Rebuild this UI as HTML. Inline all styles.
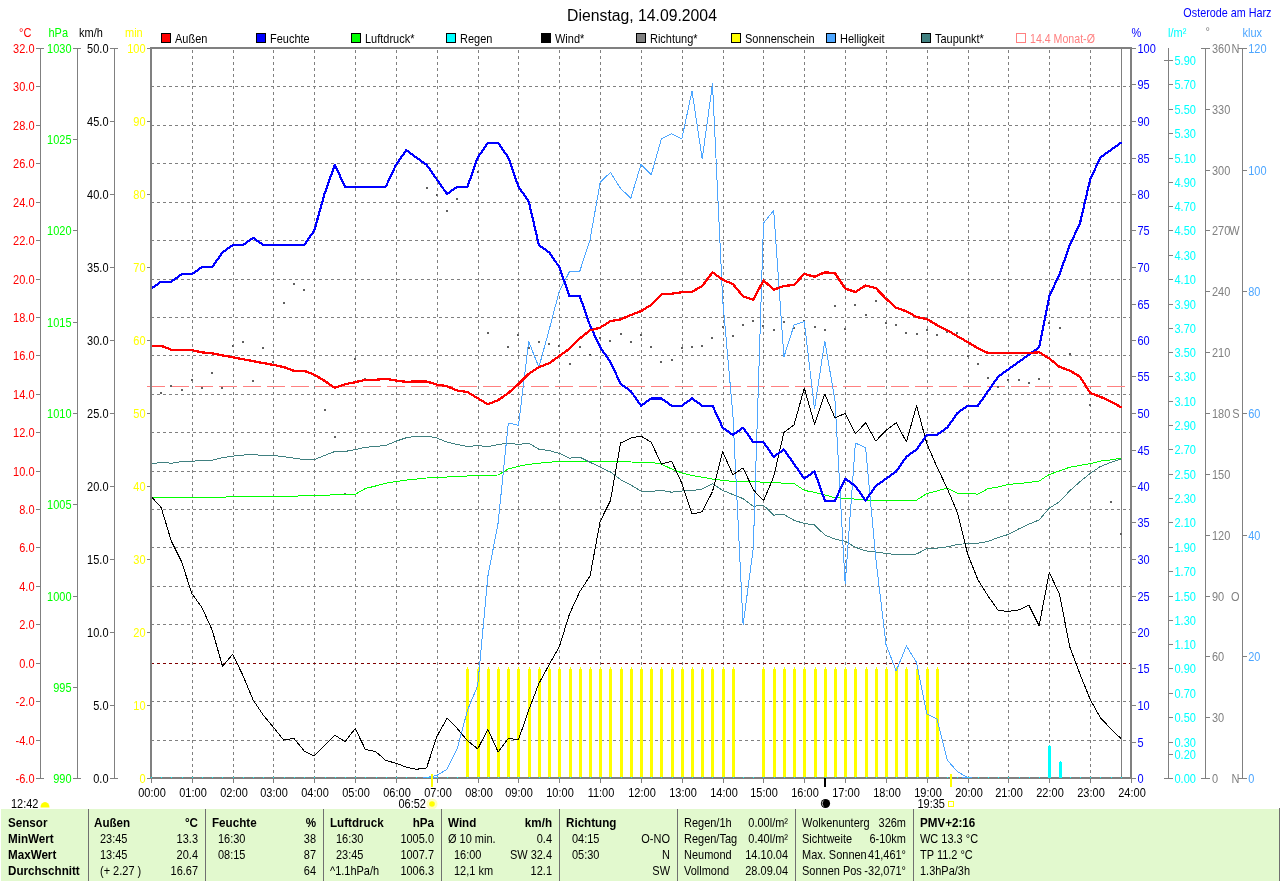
<!DOCTYPE html>
<html><head><meta charset="utf-8"><title>Wetter</title>
<style>html,body{margin:0;padding:0;background:#fff;}body{width:1280px;height:881px;overflow:hidden;}svg{display:block;font-family:"Liberation Sans",sans-serif;will-change:transform;}.c{shape-rendering:crispEdges}</style></head><body>
<svg width="1280" height="881" viewBox="0 0 1280 881">
<rect width="1280" height="881" fill="#fff"/>
<text transform="translate(642,21) scale(0.985,1)" fill="#000" text-anchor="middle" font-size="16" font-weight="normal" >Dienstag, 14.09.2004</text>
<text transform="translate(1271.5,16.5) scale(0.9,1)" fill="#0000ff" text-anchor="end" font-size="12" font-weight="normal" >Osterode am Harz</text>
<rect class="c" x="161.5" y="33.5" width="9" height="9" fill="#ff0000" stroke="#000" stroke-width="1"/>
<text transform="translate(175,42.5) scale(0.915,1)" fill="#000" text-anchor="start" font-size="12" font-weight="normal" >Au&#223;en</text>
<rect class="c" x="256.5" y="33.5" width="9" height="9" fill="#0000ff" stroke="#000" stroke-width="1"/>
<text transform="translate(270,42.5) scale(0.915,1)" fill="#000" text-anchor="start" font-size="12" font-weight="normal" >Feuchte</text>
<rect class="c" x="351.5" y="33.5" width="9" height="9" fill="#00ff00" stroke="#000" stroke-width="1"/>
<text transform="translate(365,42.5) scale(0.915,1)" fill="#000" text-anchor="start" font-size="12" font-weight="normal" >Luftdruck*</text>
<rect class="c" x="446.5" y="33.5" width="9" height="9" fill="#00ffff" stroke="#000" stroke-width="1"/>
<text transform="translate(460,42.5) scale(0.915,1)" fill="#000" text-anchor="start" font-size="12" font-weight="normal" >Regen</text>
<rect class="c" x="541.5" y="33.5" width="9" height="9" fill="#000000" stroke="#000" stroke-width="1"/>
<text transform="translate(555,42.5) scale(0.915,1)" fill="#000" text-anchor="start" font-size="12" font-weight="normal" >Wind*</text>
<rect class="c" x="636.5" y="33.5" width="9" height="9" fill="#808080" stroke="#000" stroke-width="1"/>
<text transform="translate(650,42.5) scale(0.915,1)" fill="#000" text-anchor="start" font-size="12" font-weight="normal" >Richtung*</text>
<rect class="c" x="731.5" y="33.5" width="9" height="9" fill="#ffff00" stroke="#000" stroke-width="1"/>
<text transform="translate(745,42.5) scale(0.915,1)" fill="#000" text-anchor="start" font-size="12" font-weight="normal" >Sonnenschein</text>
<rect class="c" x="826.5" y="33.5" width="9" height="9" fill="#4da6ff" stroke="#000" stroke-width="1"/>
<text transform="translate(840,42.5) scale(0.915,1)" fill="#000" text-anchor="start" font-size="12" font-weight="normal" >Helligkeit</text>
<rect class="c" x="921.5" y="33.5" width="9" height="9" fill="#408080" stroke="#000" stroke-width="1"/>
<text transform="translate(935,42.5) scale(0.915,1)" fill="#000" text-anchor="start" font-size="12" font-weight="normal" >Taupunkt*</text>
<rect class="c" x="1016.5" y="33.5" width="9" height="9" fill="#fff" stroke="#ff8080" stroke-width="1"/>
<text transform="translate(1030,42.5) scale(0.885,1)" fill="#ff8080" text-anchor="start" font-size="12" font-weight="normal" >14.4 Monat-&#216;</text>
<g class="c">
<line x1="151" x2="1130" y1="86.5" y2="86.5" stroke="#808080" stroke-width="1" stroke-dasharray="3,3"/>
<line x1="151" x2="1130" y1="125.5" y2="125.5" stroke="#808080" stroke-width="1" stroke-dasharray="3,3"/>
<line x1="151" x2="1130" y1="163.5" y2="163.5" stroke="#808080" stroke-width="1" stroke-dasharray="3,3"/>
<line x1="151" x2="1130" y1="202.5" y2="202.5" stroke="#808080" stroke-width="1" stroke-dasharray="3,3"/>
<line x1="151" x2="1130" y1="240.5" y2="240.5" stroke="#808080" stroke-width="1" stroke-dasharray="3,3"/>
<line x1="151" x2="1130" y1="279.5" y2="279.5" stroke="#808080" stroke-width="1" stroke-dasharray="3,3"/>
<line x1="151" x2="1130" y1="317.5" y2="317.5" stroke="#808080" stroke-width="1" stroke-dasharray="3,3"/>
<line x1="151" x2="1130" y1="355.5" y2="355.5" stroke="#808080" stroke-width="1" stroke-dasharray="3,3"/>
<line x1="151" x2="1130" y1="394.5" y2="394.5" stroke="#808080" stroke-width="1" stroke-dasharray="3,3"/>
<line x1="151" x2="1130" y1="432.5" y2="432.5" stroke="#808080" stroke-width="1" stroke-dasharray="3,3"/>
<line x1="151" x2="1130" y1="471.5" y2="471.5" stroke="#808080" stroke-width="1" stroke-dasharray="3,3"/>
<line x1="151" x2="1130" y1="509.5" y2="509.5" stroke="#808080" stroke-width="1" stroke-dasharray="3,3"/>
<line x1="151" x2="1130" y1="547.5" y2="547.5" stroke="#808080" stroke-width="1" stroke-dasharray="3,3"/>
<line x1="151" x2="1130" y1="586.5" y2="586.5" stroke="#808080" stroke-width="1" stroke-dasharray="3,3"/>
<line x1="151" x2="1130" y1="624.5" y2="624.5" stroke="#808080" stroke-width="1" stroke-dasharray="3,3"/>
<line x1="151" x2="1130" y1="701.5" y2="701.5" stroke="#808080" stroke-width="1" stroke-dasharray="3,3"/>
<line x1="151" x2="1130" y1="740.5" y2="740.5" stroke="#808080" stroke-width="1" stroke-dasharray="3,3"/>
<line x1="192.5" x2="192.5" y1="50" y2="778" stroke="#808080" stroke-width="1" stroke-dasharray="3,3"/>
<line x1="233.5" x2="233.5" y1="50" y2="778" stroke="#808080" stroke-width="1" stroke-dasharray="3,3"/>
<line x1="273.5" x2="273.5" y1="50" y2="778" stroke="#808080" stroke-width="1" stroke-dasharray="3,3"/>
<line x1="314.5" x2="314.5" y1="50" y2="778" stroke="#808080" stroke-width="1" stroke-dasharray="3,3"/>
<line x1="355.5" x2="355.5" y1="50" y2="778" stroke="#808080" stroke-width="1" stroke-dasharray="3,3"/>
<line x1="396.5" x2="396.5" y1="50" y2="778" stroke="#808080" stroke-width="1" stroke-dasharray="3,3"/>
<line x1="437.5" x2="437.5" y1="50" y2="778" stroke="#808080" stroke-width="1" stroke-dasharray="3,3"/>
<line x1="478.5" x2="478.5" y1="50" y2="778" stroke="#808080" stroke-width="1" stroke-dasharray="3,3"/>
<line x1="518.5" x2="518.5" y1="50" y2="778" stroke="#808080" stroke-width="1" stroke-dasharray="3,3"/>
<line x1="559.5" x2="559.5" y1="50" y2="778" stroke="#808080" stroke-width="1" stroke-dasharray="3,3"/>
<line x1="600.5" x2="600.5" y1="50" y2="778" stroke="#808080" stroke-width="1" stroke-dasharray="3,3"/>
<line x1="641.5" x2="641.5" y1="50" y2="778" stroke="#808080" stroke-width="1" stroke-dasharray="3,3"/>
<line x1="682.5" x2="682.5" y1="50" y2="778" stroke="#808080" stroke-width="1" stroke-dasharray="3,3"/>
<line x1="723.5" x2="723.5" y1="50" y2="778" stroke="#808080" stroke-width="1" stroke-dasharray="3,3"/>
<line x1="763.5" x2="763.5" y1="50" y2="778" stroke="#808080" stroke-width="1" stroke-dasharray="3,3"/>
<line x1="804.5" x2="804.5" y1="50" y2="778" stroke="#808080" stroke-width="1" stroke-dasharray="3,3"/>
<line x1="845.5" x2="845.5" y1="50" y2="778" stroke="#808080" stroke-width="1" stroke-dasharray="3,3"/>
<line x1="886.5" x2="886.5" y1="50" y2="778" stroke="#808080" stroke-width="1" stroke-dasharray="3,3"/>
<line x1="927.5" x2="927.5" y1="50" y2="778" stroke="#808080" stroke-width="1" stroke-dasharray="3,3"/>
<line x1="968.5" x2="968.5" y1="50" y2="778" stroke="#808080" stroke-width="1" stroke-dasharray="3,3"/>
<line x1="1008.5" x2="1008.5" y1="50" y2="778" stroke="#808080" stroke-width="1" stroke-dasharray="3,3"/>
<line x1="1049.5" x2="1049.5" y1="50" y2="778" stroke="#808080" stroke-width="1" stroke-dasharray="3,3"/>
<line x1="1090.5" x2="1090.5" y1="50" y2="778" stroke="#808080" stroke-width="1" stroke-dasharray="3,3"/>
</g>
<rect class="c" x="1121" y="48" width="1" height="730" fill="#808080"/>
<!--CURVES-->
<g class="c">
<line x1="151" x2="1130" y1="663.5" y2="663.5" stroke="#800000" stroke-width="1" stroke-dasharray="3,3"/>
<line x1="147" x2="1125" y1="386.5" y2="386.5" stroke="#ff8080" stroke-width="1" stroke-dasharray="18,6"/>
<rect x="466" y="669" width="3" height="109" fill="#ffff00"/>
<rect x="467" y="667" width="1" height="2" fill="#ffff00"/>
<rect x="477" y="669" width="3" height="109" fill="#ffff00"/>
<rect x="478" y="667" width="1" height="2" fill="#ffff00"/>
<rect x="487" y="669" width="3" height="109" fill="#ffff00"/>
<rect x="488" y="667" width="1" height="2" fill="#ffff00"/>
<rect x="497" y="669" width="3" height="109" fill="#ffff00"/>
<rect x="498" y="667" width="1" height="2" fill="#ffff00"/>
<rect x="507" y="669" width="3" height="109" fill="#ffff00"/>
<rect x="508" y="667" width="1" height="2" fill="#ffff00"/>
<rect x="517" y="669" width="3" height="109" fill="#ffff00"/>
<rect x="518" y="667" width="1" height="2" fill="#ffff00"/>
<rect x="528" y="669" width="3" height="109" fill="#ffff00"/>
<rect x="529" y="667" width="1" height="2" fill="#ffff00"/>
<rect x="538" y="669" width="3" height="109" fill="#ffff00"/>
<rect x="539" y="667" width="1" height="2" fill="#ffff00"/>
<rect x="548" y="669" width="3" height="109" fill="#ffff00"/>
<rect x="549" y="667" width="1" height="2" fill="#ffff00"/>
<rect x="558" y="669" width="3" height="109" fill="#ffff00"/>
<rect x="559" y="667" width="1" height="2" fill="#ffff00"/>
<rect x="569" y="669" width="3" height="109" fill="#ffff00"/>
<rect x="570" y="667" width="1" height="2" fill="#ffff00"/>
<rect x="579" y="669" width="3" height="109" fill="#ffff00"/>
<rect x="580" y="667" width="1" height="2" fill="#ffff00"/>
<rect x="589" y="669" width="3" height="109" fill="#ffff00"/>
<rect x="590" y="667" width="1" height="2" fill="#ffff00"/>
<rect x="599" y="669" width="3" height="109" fill="#ffff00"/>
<rect x="600" y="667" width="1" height="2" fill="#ffff00"/>
<rect x="609" y="669" width="3" height="109" fill="#ffff00"/>
<rect x="610" y="667" width="1" height="2" fill="#ffff00"/>
<rect x="620" y="669" width="3" height="109" fill="#ffff00"/>
<rect x="621" y="667" width="1" height="2" fill="#ffff00"/>
<rect x="630" y="669" width="3" height="109" fill="#ffff00"/>
<rect x="631" y="667" width="1" height="2" fill="#ffff00"/>
<rect x="640" y="669" width="3" height="109" fill="#ffff00"/>
<rect x="641" y="667" width="1" height="2" fill="#ffff00"/>
<rect x="650" y="669" width="3" height="109" fill="#ffff00"/>
<rect x="651" y="667" width="1" height="2" fill="#ffff00"/>
<rect x="660" y="669" width="3" height="109" fill="#ffff00"/>
<rect x="661" y="667" width="1" height="2" fill="#ffff00"/>
<rect x="671" y="669" width="3" height="109" fill="#ffff00"/>
<rect x="672" y="667" width="1" height="2" fill="#ffff00"/>
<rect x="681" y="669" width="3" height="109" fill="#ffff00"/>
<rect x="682" y="667" width="1" height="2" fill="#ffff00"/>
<rect x="691" y="669" width="3" height="109" fill="#ffff00"/>
<rect x="692" y="667" width="1" height="2" fill="#ffff00"/>
<rect x="701" y="669" width="3" height="109" fill="#ffff00"/>
<rect x="702" y="667" width="1" height="2" fill="#ffff00"/>
<rect x="711" y="669" width="3" height="109" fill="#ffff00"/>
<rect x="712" y="667" width="1" height="2" fill="#ffff00"/>
<rect x="722" y="669" width="3" height="109" fill="#ffff00"/>
<rect x="723" y="667" width="1" height="2" fill="#ffff00"/>
<rect x="732" y="669" width="3" height="109" fill="#ffff00"/>
<rect x="733" y="667" width="1" height="2" fill="#ffff00"/>
<rect x="762" y="669" width="3" height="109" fill="#ffff00"/>
<rect x="763" y="667" width="1" height="2" fill="#ffff00"/>
<rect x="773" y="669" width="3" height="109" fill="#ffff00"/>
<rect x="774" y="667" width="1" height="2" fill="#ffff00"/>
<rect x="783" y="669" width="3" height="109" fill="#ffff00"/>
<rect x="784" y="667" width="1" height="2" fill="#ffff00"/>
<rect x="793" y="669" width="3" height="109" fill="#ffff00"/>
<rect x="794" y="667" width="1" height="2" fill="#ffff00"/>
<rect x="803" y="669" width="3" height="109" fill="#ffff00"/>
<rect x="804" y="667" width="1" height="2" fill="#ffff00"/>
<rect x="814" y="669" width="3" height="109" fill="#ffff00"/>
<rect x="815" y="667" width="1" height="2" fill="#ffff00"/>
<rect x="824" y="669" width="3" height="109" fill="#ffff00"/>
<rect x="825" y="667" width="1" height="2" fill="#ffff00"/>
<rect x="834" y="669" width="3" height="109" fill="#ffff00"/>
<rect x="835" y="667" width="1" height="2" fill="#ffff00"/>
<rect x="844" y="669" width="3" height="109" fill="#ffff00"/>
<rect x="845" y="667" width="1" height="2" fill="#ffff00"/>
<rect x="854" y="669" width="3" height="109" fill="#ffff00"/>
<rect x="855" y="667" width="1" height="2" fill="#ffff00"/>
<rect x="865" y="669" width="3" height="109" fill="#ffff00"/>
<rect x="866" y="667" width="1" height="2" fill="#ffff00"/>
<rect x="875" y="669" width="3" height="109" fill="#ffff00"/>
<rect x="876" y="667" width="1" height="2" fill="#ffff00"/>
<rect x="885" y="669" width="3" height="109" fill="#ffff00"/>
<rect x="886" y="667" width="1" height="2" fill="#ffff00"/>
<rect x="895" y="669" width="3" height="109" fill="#ffff00"/>
<rect x="896" y="667" width="1" height="2" fill="#ffff00"/>
<rect x="905" y="669" width="3" height="109" fill="#ffff00"/>
<rect x="906" y="667" width="1" height="2" fill="#ffff00"/>
<rect x="916" y="669" width="3" height="109" fill="#ffff00"/>
<rect x="917" y="667" width="1" height="2" fill="#ffff00"/>
<rect x="926" y="669" width="3" height="109" fill="#ffff00"/>
<rect x="927" y="667" width="1" height="2" fill="#ffff00"/>
<rect x="936" y="669" width="3" height="109" fill="#ffff00"/>
<rect x="937" y="667" width="1" height="2" fill="#ffff00"/>
<rect x="160" y="392" width="2" height="2" fill="#606060"/>
<rect x="170" y="385" width="2" height="2" fill="#606060"/>
<rect x="181" y="389" width="2" height="2" fill="#606060"/>
<rect x="191" y="379" width="2" height="2" fill="#606060"/>
<rect x="201" y="387" width="2" height="2" fill="#606060"/>
<rect x="211" y="372" width="2" height="2" fill="#606060"/>
<rect x="221" y="387" width="2" height="2" fill="#606060"/>
<rect x="232" y="345" width="2" height="2" fill="#606060"/>
<rect x="242" y="341" width="2" height="2" fill="#606060"/>
<rect x="252" y="380" width="2" height="2" fill="#606060"/>
<rect x="262" y="347" width="2" height="2" fill="#606060"/>
<rect x="272" y="361" width="2" height="2" fill="#606060"/>
<rect x="283" y="302" width="2" height="2" fill="#606060"/>
<rect x="293" y="283" width="2" height="2" fill="#606060"/>
<rect x="303" y="289" width="2" height="2" fill="#606060"/>
<rect x="324" y="409" width="2" height="2" fill="#606060"/>
<rect x="334" y="436" width="2" height="2" fill="#606060"/>
<rect x="344" y="493" width="2" height="2" fill="#606060"/>
<rect x="354" y="358" width="2" height="2" fill="#606060"/>
<rect x="364" y="378" width="2" height="2" fill="#606060"/>
<rect x="426" y="187" width="2" height="2" fill="#606060"/>
<rect x="436" y="194" width="2" height="2" fill="#606060"/>
<rect x="446" y="210" width="2" height="2" fill="#606060"/>
<rect x="456" y="198" width="2" height="2" fill="#606060"/>
<rect x="477" y="171" width="2" height="2" fill="#606060"/>
<rect x="487" y="332" width="2" height="2" fill="#606060"/>
<rect x="507" y="346" width="2" height="2" fill="#606060"/>
<rect x="517" y="334" width="2" height="2" fill="#606060"/>
<rect x="528" y="347" width="2" height="2" fill="#606060"/>
<rect x="538" y="341" width="2" height="2" fill="#606060"/>
<rect x="548" y="343" width="2" height="2" fill="#606060"/>
<rect x="558" y="345" width="2" height="2" fill="#606060"/>
<rect x="569" y="363" width="2" height="2" fill="#606060"/>
<rect x="579" y="346" width="2" height="2" fill="#606060"/>
<rect x="589" y="354" width="2" height="2" fill="#606060"/>
<rect x="599" y="337" width="2" height="2" fill="#606060"/>
<rect x="609" y="340" width="2" height="2" fill="#606060"/>
<rect x="620" y="333" width="2" height="2" fill="#606060"/>
<rect x="630" y="341" width="2" height="2" fill="#606060"/>
<rect x="640" y="334" width="2" height="2" fill="#606060"/>
<rect x="650" y="346" width="2" height="2" fill="#606060"/>
<rect x="660" y="361" width="2" height="2" fill="#606060"/>
<rect x="671" y="359" width="2" height="2" fill="#606060"/>
<rect x="681" y="347" width="2" height="2" fill="#606060"/>
<rect x="691" y="346" width="2" height="2" fill="#606060"/>
<rect x="701" y="345" width="2" height="2" fill="#606060"/>
<rect x="711" y="337" width="2" height="2" fill="#606060"/>
<rect x="722" y="326" width="2" height="2" fill="#606060"/>
<rect x="732" y="335" width="2" height="2" fill="#606060"/>
<rect x="742" y="324" width="2" height="2" fill="#606060"/>
<rect x="752" y="320" width="2" height="2" fill="#606060"/>
<rect x="762" y="325" width="2" height="2" fill="#606060"/>
<rect x="773" y="329" width="2" height="2" fill="#606060"/>
<rect x="783" y="321" width="2" height="2" fill="#606060"/>
<rect x="793" y="327" width="2" height="2" fill="#606060"/>
<rect x="803" y="320" width="2" height="2" fill="#606060"/>
<rect x="814" y="326" width="2" height="2" fill="#606060"/>
<rect x="824" y="329" width="2" height="2" fill="#606060"/>
<rect x="834" y="305" width="2" height="2" fill="#606060"/>
<rect x="844" y="328" width="2" height="2" fill="#606060"/>
<rect x="854" y="304" width="2" height="2" fill="#606060"/>
<rect x="865" y="314" width="2" height="2" fill="#606060"/>
<rect x="875" y="300" width="2" height="2" fill="#606060"/>
<rect x="885" y="322" width="2" height="2" fill="#606060"/>
<rect x="895" y="324" width="2" height="2" fill="#606060"/>
<rect x="905" y="332" width="2" height="2" fill="#606060"/>
<rect x="916" y="333" width="2" height="2" fill="#606060"/>
<rect x="926" y="329" width="2" height="2" fill="#606060"/>
<rect x="936" y="334" width="2" height="2" fill="#606060"/>
<rect x="946" y="331" width="2" height="2" fill="#606060"/>
<rect x="956" y="332" width="2" height="2" fill="#606060"/>
<rect x="967" y="355" width="2" height="2" fill="#606060"/>
<rect x="977" y="363" width="2" height="2" fill="#606060"/>
<rect x="987" y="377" width="2" height="2" fill="#606060"/>
<rect x="997" y="386" width="2" height="2" fill="#606060"/>
<rect x="1007" y="379" width="2" height="2" fill="#606060"/>
<rect x="1018" y="379" width="2" height="2" fill="#606060"/>
<rect x="1028" y="382" width="2" height="2" fill="#606060"/>
<rect x="1038" y="378" width="2" height="2" fill="#606060"/>
<rect x="1048" y="322" width="2" height="2" fill="#606060"/>
<rect x="1059" y="327" width="2" height="2" fill="#606060"/>
<rect x="1069" y="353" width="2" height="2" fill="#606060"/>
<rect x="1089" y="404" width="2" height="2" fill="#606060"/>
<rect x="1110" y="501" width="2" height="2" fill="#606060"/>
<rect x="1120" y="533" width="2" height="2" fill="#606060"/>
</g>
<polyline points="151.0,497.3 161.2,497.3 171.4,497.3 181.6,497.3 191.8,497.3 202.0,497.3 212.2,497.3 222.5,497.3 232.7,496.4 242.9,496.4 253.1,496.4 263.3,496.4 273.5,496.4 283.7,496.4 293.9,496.4 304.1,495.5 314.3,495.5 324.5,495.4 334.8,494.6 345.0,494.3 355.2,494.3 365.4,488.5 375.6,486.0 385.8,483.2 396.0,481.5 406.2,480.1 416.4,479.1 426.6,478.0 436.8,477.4 447.0,477.0 457.2,476.2 467.5,476.0 477.7,475.4 487.9,475.2 498.1,475.0 508.3,468.9 518.5,466.3 528.7,464.4 538.9,463.2 549.1,462.2 559.3,461.5 569.5,461.5 579.8,461.5 590.0,461.5 600.2,461.6 610.4,461.6 620.6,461.7 630.8,462.0 641.0,462.2 651.2,462.4 661.4,464.1 671.6,469.0 681.8,472.9 692.0,475.5 702.2,477.2 712.5,479.1 722.7,480.3 732.9,481.4 743.1,481.4 753.3,481.4 763.5,482.3 773.7,482.3 783.9,483.3 794.1,483.5 804.3,490.4 814.5,492.3 824.8,495.0 835.0,497.7 845.2,498.3 855.4,499.1 865.6,500.1 875.8,500.1 886.0,500.1 896.2,500.1 906.4,500.1 916.6,500.1 926.8,493.6 937.0,490.9 947.2,488.0 957.5,493.3 967.7,493.3 977.9,494.2 988.1,488.6 998.3,487.0 1008.5,484.3 1018.7,483.6 1028.9,482.5 1039.1,481.0 1049.3,474.5 1059.5,470.9 1069.8,467.2 1080.0,465.4 1090.2,463.6 1100.4,461.1 1110.6,460.0 1120.8,458.1" fill="none" stroke="#00ff00" stroke-width="1.0" stroke-linejoin="round" stroke-linecap="round" shape-rendering="crispEdges" />
<polyline points="151.0,464.1 161.2,462.2 171.4,463.3 181.6,461.6 191.8,461.2 202.0,460.6 212.2,460.2 222.5,457.6 232.7,456.2 242.9,455.1 253.1,454.5 263.3,455.5 273.5,455.5 283.7,456.6 293.9,458.2 304.1,459.6 314.3,459.6 324.5,455.5 334.8,451.5 345.0,451.5 355.2,449.5 365.4,447.4 375.6,446.4 385.8,445.4 396.0,441.2 406.2,437.8 416.4,436.0 426.6,436.0 436.8,438.0 447.0,442.1 457.2,444.5 467.5,446.6 477.7,445.5 487.9,446.6 498.1,444.5 508.3,443.1 518.5,444.5 528.7,443.1 538.9,449.2 549.1,450.6 559.3,453.3 569.5,458.1 579.8,457.2 590.0,462.3 600.2,467.0 610.4,472.0 620.6,479.6 630.8,485.0 641.0,491.1 651.2,491.4 661.4,490.3 671.6,492.2 681.8,491.0 692.0,490.5 702.2,489.1 712.5,483.9 722.7,490.3 732.9,494.6 743.1,498.6 753.3,506.3 763.5,505.3 773.7,515.1 783.9,514.5 794.1,520.4 804.3,523.4 814.5,525.0 824.8,535.0 835.0,539.1 845.2,541.2 855.4,547.3 865.6,550.8 875.8,552.0 886.0,553.5 896.2,554.5 906.4,555.0 916.6,554.0 926.8,548.7 937.0,548.1 947.2,546.9 957.5,544.5 967.7,543.5 977.9,543.3 988.1,541.4 998.3,537.4 1008.5,534.4 1018.7,528.9 1028.9,524.2 1039.1,519.9 1049.3,508.2 1059.5,501.7 1069.8,490.8 1080.0,481.7 1090.2,473.4 1100.4,466.5 1110.6,462.5 1120.8,459.2" fill="none" stroke="#408080" stroke-width="1.0" stroke-linejoin="round" stroke-linecap="round" shape-rendering="crispEdges" />
<polyline points="416.4,778.0 426.6,777.5 436.8,775.4 447.0,769.3 457.2,748.9 467.5,710.1 477.7,685.6 487.9,576.0 498.1,523.0 508.3,423.0 518.5,425.3 528.7,341.6 538.9,367.2 549.1,330.0 559.3,291.0 569.5,271.7 579.8,271.2 590.0,239.8 600.2,182.3 610.4,172.4 620.6,188.5 630.8,198.2 641.0,164.4 651.2,174.8 661.4,139.0 671.6,133.7 681.8,139.0 692.0,91.0 702.2,158.8 712.5,83.9 722.7,300.0 732.9,415.0 743.1,625.0 753.3,548.0 763.5,223.2 773.7,210.5 783.9,357.0 794.1,325.0 804.3,321.5 814.5,409.0 824.8,341.0 835.0,400.6 845.2,584.0 855.4,443.0 865.6,447.8 875.8,558.5 886.0,644.5 896.2,671.0 906.4,645.8 916.6,662.6 926.8,713.8 937.0,718.8 947.2,760.0 957.5,771.7 967.7,777.6 977.9,778.0" fill="none" stroke="#4da6ff" stroke-width="1.0" stroke-linejoin="round" stroke-linecap="round" shape-rendering="crispEdges" />
<polyline points="151.0,496.3 161.2,507.6 171.4,541.3 181.6,561.7 191.8,593.4 202.0,607.7 212.2,630.2 222.5,666.2 232.7,654.2 242.9,675.4 253.1,699.9 263.3,715.2 273.5,727.4 283.7,740.1 293.9,738.3 304.1,750.9 314.3,756.0 324.5,745.8 334.8,735.0 345.0,741.7 355.2,728.5 365.4,749.5 375.6,751.5 385.8,760.5 396.0,763.2 406.2,767.1 416.4,769.3 426.6,767.9 436.8,736.6 447.0,718.3 457.2,728.5 467.5,740.7 477.7,748.9 487.9,729.5 498.1,752.0 508.3,738.3 518.5,739.7 528.7,710.1 538.9,683.5 549.1,664.7 559.3,646.8 569.5,614.0 579.8,591.6 590.0,576.1 600.2,521.3 610.4,500.7 620.6,443.0 630.8,438.1 641.0,436.1 651.2,442.2 661.4,464.1 671.6,461.2 681.8,483.2 692.0,514.1 702.2,511.8 712.5,491.5 722.7,451.7 732.9,474.8 743.1,467.8 753.3,489.8 763.5,500.8 773.7,476.7 783.9,432.5 794.1,424.7 804.3,388.0 814.5,424.1 824.8,394.1 835.0,418.0 845.2,413.3 855.4,433.9 865.6,422.7 875.8,441.1 886.0,430.3 896.2,422.7 906.4,441.9 916.6,405.7 926.8,443.5 937.0,467.0 947.2,488.3 957.5,512.8 967.7,554.3 977.9,579.7 988.1,596.1 998.3,610.6 1008.5,611.3 1018.7,609.9 1028.9,605.2 1039.1,625.8 1049.3,572.5 1059.5,594.3 1069.8,646.9 1080.0,674.1 1090.2,699.5 1100.4,717.7 1110.6,728.6 1120.8,738.4" fill="none" stroke="#000000" stroke-width="1.0" stroke-linejoin="round" stroke-linecap="round" shape-rendering="crispEdges" />
<polyline points="151.0,288.9 161.2,281.6 171.4,281.6 181.6,274.3 191.8,274.3 202.0,267.0 212.2,267.0 222.5,252.4 232.7,245.1 242.9,245.1 253.1,237.8 263.3,245.1 273.5,245.1 283.7,245.1 293.9,245.1 304.1,245.1 314.3,230.5 324.5,194.0 334.8,164.8 345.0,186.7 355.2,186.7 365.4,186.7 375.6,186.7 385.8,186.7 396.0,164.8 406.2,150.2 416.4,157.5 426.6,164.8 436.8,179.4 447.0,194.0 457.2,186.7 467.5,186.7 477.7,157.5 487.9,142.9 498.1,142.9 508.3,157.5 518.5,186.7 528.7,201.3 538.9,245.1 549.1,252.4 559.3,267.0 569.5,296.2 579.8,296.2 590.0,325.4 600.2,347.3 610.4,361.9 620.6,383.8 630.8,391.1 641.0,405.7 651.2,398.4 661.4,398.4 671.6,405.7 681.8,405.7 692.0,398.4 702.2,405.7 712.5,405.7 722.7,427.6 732.9,434.9 743.1,427.6 753.3,442.2 763.5,442.2 773.7,456.8 783.9,449.5 794.1,464.1 804.3,478.7 814.5,471.4 824.8,500.6 835.0,500.6 845.2,478.7 855.4,486.0 865.6,500.6 875.8,486.0 886.0,478.7 896.2,471.4 906.4,456.8 916.6,449.5 926.8,434.9 937.0,434.9 947.2,427.6 957.5,413.0 967.7,405.7 977.9,405.7 988.1,391.1 998.3,376.5 1008.5,369.2 1018.7,361.9 1028.9,354.6 1039.1,347.3 1049.3,296.2 1059.5,274.3 1069.8,245.1 1080.0,223.2 1090.2,179.4 1100.4,157.5 1110.6,150.2 1120.8,142.9" fill="none" stroke="#0000ff" stroke-width="2.2" stroke-linejoin="round" stroke-linecap="round" shape-rendering="crispEdges" />
<polyline points="151.0,345.8 161.2,345.8 171.4,349.7 181.6,349.7 191.8,350.1 202.0,352.3 212.2,353.4 222.5,355.4 232.7,357.2 242.9,359.2 253.1,361.1 263.3,363.1 273.5,364.9 283.7,367.0 293.9,370.8 304.1,370.8 314.3,374.7 324.5,380.8 334.8,387.9 345.0,384.2 355.2,382.2 365.4,379.8 375.6,379.8 385.8,378.8 396.0,380.6 406.2,381.8 416.4,381.5 426.6,381.5 436.8,384.6 447.0,386.2 457.2,390.5 467.5,392.1 477.7,398.2 487.9,404.3 498.1,400.2 508.3,393.1 518.5,384.0 528.7,373.8 538.9,367.1 549.1,363.3 559.3,356.0 569.5,348.8 579.8,338.5 590.0,330.4 600.2,327.6 610.4,321.2 620.6,319.4 630.8,315.1 641.0,311.1 651.2,304.9 661.4,294.3 671.6,293.7 681.8,292.3 692.0,291.7 702.2,286.1 712.5,272.3 722.7,279.8 732.9,284.1 743.1,296.4 753.3,299.8 763.5,280.4 773.7,289.6 783.9,286.1 794.1,284.8 804.3,273.9 814.5,276.7 824.8,272.3 835.0,273.3 845.2,288.5 855.4,292.0 865.6,285.5 875.8,288.1 886.0,298.7 896.2,307.8 906.4,311.3 916.6,317.0 926.8,319.0 937.0,325.1 947.2,330.2 957.5,336.3 967.7,342.1 977.9,348.2 988.1,353.0 998.3,353.1 1008.5,353.1 1018.7,353.1 1028.9,353.1 1039.1,352.3 1049.3,358.5 1059.5,366.9 1069.8,370.6 1080.0,376.7 1090.2,393.0 1100.4,396.8 1110.6,401.5 1120.8,407.0" fill="none" stroke="#ff0000" stroke-width="2.3" stroke-linejoin="round" stroke-linecap="round" shape-rendering="crispEdges" />
<!--/CURVES-->
<g class="c">
<rect x="150" y="47" width="982" height="2" fill="#808080"/>
<rect x="150" y="777" width="982" height="2" fill="#808080"/>
<rect x="150" y="47" width="2" height="732" fill="#808080"/>
<rect x="1130" y="47" width="2" height="732" fill="#808080"/>
<rect x="151" y="778" width="1" height="5" fill="#808080"/>
<rect x="192" y="778" width="1" height="5" fill="#808080"/>
<rect x="233" y="778" width="1" height="5" fill="#808080"/>
<rect x="273" y="778" width="1" height="5" fill="#808080"/>
<rect x="314" y="778" width="1" height="5" fill="#808080"/>
<rect x="355" y="778" width="1" height="5" fill="#808080"/>
<rect x="396" y="778" width="1" height="5" fill="#808080"/>
<rect x="437" y="778" width="1" height="5" fill="#808080"/>
<rect x="478" y="778" width="1" height="5" fill="#808080"/>
<rect x="518" y="778" width="1" height="5" fill="#808080"/>
<rect x="559" y="778" width="1" height="5" fill="#808080"/>
<rect x="600" y="778" width="1" height="5" fill="#808080"/>
<rect x="641" y="778" width="1" height="5" fill="#808080"/>
<rect x="682" y="778" width="1" height="5" fill="#808080"/>
<rect x="723" y="778" width="1" height="5" fill="#808080"/>
<rect x="763" y="778" width="1" height="5" fill="#808080"/>
<rect x="804" y="778" width="1" height="5" fill="#808080"/>
<rect x="845" y="778" width="1" height="5" fill="#808080"/>
<rect x="886" y="778" width="1" height="5" fill="#808080"/>
<rect x="927" y="778" width="1" height="5" fill="#808080"/>
<rect x="968" y="778" width="1" height="5" fill="#808080"/>
<rect x="1008" y="778" width="1" height="5" fill="#808080"/>
<rect x="1049" y="778" width="1" height="5" fill="#808080"/>
<rect x="1090" y="778" width="1" height="5" fill="#808080"/>
<rect x="1131" y="778" width="1" height="5" fill="#808080"/>
</g>
<g class="c">
<rect x="423" y="777" width="15" height="1" fill="#4da6ff"/>
<rect x="962" y="777" width="10" height="1" fill="#4da6ff"/>
<rect x="151" y="777" width="1" height="1" fill="#00ffff"/>
<rect x="161" y="777" width="1" height="1" fill="#00ffff"/>
<rect x="171" y="777" width="1" height="1" fill="#00ffff"/>
<rect x="182" y="777" width="1" height="1" fill="#00ffff"/>
<rect x="192" y="777" width="1" height="1" fill="#00ffff"/>
<rect x="202" y="777" width="1" height="1" fill="#00ffff"/>
<rect x="212" y="777" width="1" height="1" fill="#00ffff"/>
<rect x="222" y="777" width="1" height="1" fill="#00ffff"/>
<rect x="233" y="777" width="1" height="1" fill="#00ffff"/>
<rect x="243" y="777" width="1" height="1" fill="#00ffff"/>
<rect x="253" y="777" width="1" height="1" fill="#00ffff"/>
<rect x="263" y="777" width="1" height="1" fill="#00ffff"/>
<rect x="273" y="777" width="1" height="1" fill="#00ffff"/>
<rect x="284" y="777" width="1" height="1" fill="#00ffff"/>
<rect x="294" y="777" width="1" height="1" fill="#00ffff"/>
<rect x="304" y="777" width="1" height="1" fill="#00ffff"/>
<rect x="314" y="777" width="1" height="1" fill="#00ffff"/>
<rect x="325" y="777" width="1" height="1" fill="#00ffff"/>
<rect x="335" y="777" width="1" height="1" fill="#00ffff"/>
<rect x="345" y="777" width="1" height="1" fill="#00ffff"/>
<rect x="355" y="777" width="1" height="1" fill="#00ffff"/>
<rect x="365" y="777" width="1" height="1" fill="#00ffff"/>
<rect x="376" y="777" width="1" height="1" fill="#00ffff"/>
<rect x="386" y="777" width="1" height="1" fill="#00ffff"/>
<rect x="396" y="777" width="1" height="1" fill="#00ffff"/>
<rect x="406" y="777" width="1" height="1" fill="#00ffff"/>
<rect x="416" y="777" width="1" height="1" fill="#00ffff"/>
<rect x="427" y="777" width="1" height="1" fill="#00ffff"/>
<rect x="437" y="777" width="1" height="1" fill="#00ffff"/>
<rect x="447" y="777" width="1" height="1" fill="#00ffff"/>
<rect x="457" y="777" width="1" height="1" fill="#00ffff"/>
<rect x="467" y="777" width="1" height="1" fill="#00ffff"/>
<rect x="478" y="777" width="1" height="1" fill="#00ffff"/>
<rect x="488" y="777" width="1" height="1" fill="#00ffff"/>
<rect x="498" y="777" width="1" height="1" fill="#00ffff"/>
<rect x="508" y="777" width="1" height="1" fill="#00ffff"/>
<rect x="518" y="777" width="1" height="1" fill="#00ffff"/>
<rect x="529" y="777" width="1" height="1" fill="#00ffff"/>
<rect x="539" y="777" width="1" height="1" fill="#00ffff"/>
<rect x="549" y="777" width="1" height="1" fill="#00ffff"/>
<rect x="559" y="777" width="1" height="1" fill="#00ffff"/>
<rect x="570" y="777" width="1" height="1" fill="#00ffff"/>
<rect x="580" y="777" width="1" height="1" fill="#00ffff"/>
<rect x="590" y="777" width="1" height="1" fill="#00ffff"/>
<rect x="600" y="777" width="1" height="1" fill="#00ffff"/>
<rect x="610" y="777" width="1" height="1" fill="#00ffff"/>
<rect x="621" y="777" width="1" height="1" fill="#00ffff"/>
<rect x="631" y="777" width="1" height="1" fill="#00ffff"/>
<rect x="641" y="777" width="1" height="1" fill="#00ffff"/>
<rect x="651" y="777" width="1" height="1" fill="#00ffff"/>
<rect x="661" y="777" width="1" height="1" fill="#00ffff"/>
<rect x="672" y="777" width="1" height="1" fill="#00ffff"/>
<rect x="682" y="777" width="1" height="1" fill="#00ffff"/>
<rect x="692" y="777" width="1" height="1" fill="#00ffff"/>
<rect x="702" y="777" width="1" height="1" fill="#00ffff"/>
<rect x="712" y="777" width="1" height="1" fill="#00ffff"/>
<rect x="723" y="777" width="1" height="1" fill="#00ffff"/>
<rect x="733" y="777" width="1" height="1" fill="#00ffff"/>
<rect x="743" y="777" width="1" height="1" fill="#00ffff"/>
<rect x="753" y="777" width="1" height="1" fill="#00ffff"/>
<rect x="763" y="777" width="1" height="1" fill="#00ffff"/>
<rect x="774" y="777" width="1" height="1" fill="#00ffff"/>
<rect x="784" y="777" width="1" height="1" fill="#00ffff"/>
<rect x="794" y="777" width="1" height="1" fill="#00ffff"/>
<rect x="804" y="777" width="1" height="1" fill="#00ffff"/>
<rect x="815" y="777" width="1" height="1" fill="#00ffff"/>
<rect x="825" y="777" width="1" height="1" fill="#00ffff"/>
<rect x="835" y="777" width="1" height="1" fill="#00ffff"/>
<rect x="845" y="777" width="1" height="1" fill="#00ffff"/>
<rect x="855" y="777" width="1" height="1" fill="#00ffff"/>
<rect x="866" y="777" width="1" height="1" fill="#00ffff"/>
<rect x="876" y="777" width="1" height="1" fill="#00ffff"/>
<rect x="886" y="777" width="1" height="1" fill="#00ffff"/>
<rect x="896" y="777" width="1" height="1" fill="#00ffff"/>
<rect x="906" y="777" width="1" height="1" fill="#00ffff"/>
<rect x="917" y="777" width="1" height="1" fill="#00ffff"/>
<rect x="927" y="777" width="1" height="1" fill="#00ffff"/>
<rect x="937" y="777" width="1" height="1" fill="#00ffff"/>
<rect x="947" y="777" width="1" height="1" fill="#00ffff"/>
<rect x="957" y="777" width="1" height="1" fill="#00ffff"/>
<rect x="968" y="777" width="1" height="1" fill="#00ffff"/>
<rect x="978" y="777" width="1" height="1" fill="#00ffff"/>
<rect x="988" y="777" width="1" height="1" fill="#00ffff"/>
<rect x="998" y="777" width="1" height="1" fill="#00ffff"/>
<rect x="1008" y="777" width="1" height="1" fill="#00ffff"/>
<rect x="1019" y="777" width="1" height="1" fill="#00ffff"/>
<rect x="1029" y="777" width="1" height="1" fill="#00ffff"/>
<rect x="1039" y="777" width="1" height="1" fill="#00ffff"/>
<rect x="1049" y="777" width="1" height="1" fill="#00ffff"/>
<rect x="1060" y="777" width="1" height="1" fill="#00ffff"/>
<rect x="1070" y="777" width="1" height="1" fill="#00ffff"/>
<rect x="1080" y="777" width="1" height="1" fill="#00ffff"/>
<rect x="1090" y="777" width="1" height="1" fill="#00ffff"/>
<rect x="1100" y="777" width="1" height="1" fill="#00ffff"/>
<rect x="1111" y="777" width="1" height="1" fill="#00ffff"/>
<rect x="1121" y="777" width="1" height="1" fill="#00ffff"/>
<rect x="1048" y="746" width="3" height="32" fill="#00ffff"/>
<rect x="1049" y="745" width="1" height="1" fill="#00ffff"/>
<rect x="1059" y="762" width="3" height="16" fill="#00ffff"/>
<rect x="1060" y="761" width="1" height="1" fill="#00ffff"/>
</g>
<text transform="translate(152,797) scale(0.915,1)" fill="#000" text-anchor="middle" font-size="12" font-weight="normal" >00:00</text>
<text transform="translate(193,797) scale(0.915,1)" fill="#000" text-anchor="middle" font-size="12" font-weight="normal" >01:00</text>
<text transform="translate(234,797) scale(0.915,1)" fill="#000" text-anchor="middle" font-size="12" font-weight="normal" >02:00</text>
<text transform="translate(274,797) scale(0.915,1)" fill="#000" text-anchor="middle" font-size="12" font-weight="normal" >03:00</text>
<text transform="translate(315,797) scale(0.915,1)" fill="#000" text-anchor="middle" font-size="12" font-weight="normal" >04:00</text>
<text transform="translate(356,797) scale(0.915,1)" fill="#000" text-anchor="middle" font-size="12" font-weight="normal" >05:00</text>
<text transform="translate(397,797) scale(0.915,1)" fill="#000" text-anchor="middle" font-size="12" font-weight="normal" >06:00</text>
<text transform="translate(438,797) scale(0.915,1)" fill="#000" text-anchor="middle" font-size="12" font-weight="normal" >07:00</text>
<text transform="translate(479,797) scale(0.915,1)" fill="#000" text-anchor="middle" font-size="12" font-weight="normal" >08:00</text>
<text transform="translate(519,797) scale(0.915,1)" fill="#000" text-anchor="middle" font-size="12" font-weight="normal" >09:00</text>
<text transform="translate(560,797) scale(0.915,1)" fill="#000" text-anchor="middle" font-size="12" font-weight="normal" >10:00</text>
<text transform="translate(601,797) scale(0.915,1)" fill="#000" text-anchor="middle" font-size="12" font-weight="normal" >11:00</text>
<text transform="translate(642,797) scale(0.915,1)" fill="#000" text-anchor="middle" font-size="12" font-weight="normal" >12:00</text>
<text transform="translate(683,797) scale(0.915,1)" fill="#000" text-anchor="middle" font-size="12" font-weight="normal" >13:00</text>
<text transform="translate(724,797) scale(0.915,1)" fill="#000" text-anchor="middle" font-size="12" font-weight="normal" >14:00</text>
<text transform="translate(764,797) scale(0.915,1)" fill="#000" text-anchor="middle" font-size="12" font-weight="normal" >15:00</text>
<text transform="translate(805,797) scale(0.915,1)" fill="#000" text-anchor="middle" font-size="12" font-weight="normal" >16:00</text>
<text transform="translate(846,797) scale(0.915,1)" fill="#000" text-anchor="middle" font-size="12" font-weight="normal" >17:00</text>
<text transform="translate(887,797) scale(0.915,1)" fill="#000" text-anchor="middle" font-size="12" font-weight="normal" >18:00</text>
<text transform="translate(928,797) scale(0.915,1)" fill="#000" text-anchor="middle" font-size="12" font-weight="normal" >19:00</text>
<text transform="translate(969,797) scale(0.915,1)" fill="#000" text-anchor="middle" font-size="12" font-weight="normal" >20:00</text>
<text transform="translate(1009,797) scale(0.915,1)" fill="#000" text-anchor="middle" font-size="12" font-weight="normal" >21:00</text>
<text transform="translate(1050,797) scale(0.915,1)" fill="#000" text-anchor="middle" font-size="12" font-weight="normal" >22:00</text>
<text transform="translate(1091,797) scale(0.915,1)" fill="#000" text-anchor="middle" font-size="12" font-weight="normal" >23:00</text>
<text transform="translate(1132,797) scale(0.915,1)" fill="#000" text-anchor="middle" font-size="12" font-weight="normal" >24:00</text>
<g class="c">
<rect x="40" y="48" width="1" height="731" fill="#808080"/>
<rect x="36" y="48" width="8" height="1" fill="#808080"/>
<rect x="36" y="86" width="5" height="1" fill="#808080"/>
<rect x="36" y="125" width="5" height="1" fill="#808080"/>
<rect x="36" y="163" width="5" height="1" fill="#808080"/>
<rect x="36" y="202" width="5" height="1" fill="#808080"/>
<rect x="36" y="240" width="5" height="1" fill="#808080"/>
<rect x="36" y="279" width="5" height="1" fill="#808080"/>
<rect x="36" y="317" width="5" height="1" fill="#808080"/>
<rect x="36" y="355" width="5" height="1" fill="#808080"/>
<rect x="36" y="394" width="5" height="1" fill="#808080"/>
<rect x="36" y="432" width="5" height="1" fill="#808080"/>
<rect x="36" y="471" width="5" height="1" fill="#808080"/>
<rect x="36" y="509" width="5" height="1" fill="#808080"/>
<rect x="36" y="547" width="5" height="1" fill="#808080"/>
<rect x="36" y="586" width="5" height="1" fill="#808080"/>
<rect x="36" y="624" width="5" height="1" fill="#808080"/>
<rect x="36" y="663" width="5" height="1" fill="#808080"/>
<rect x="36" y="701" width="5" height="1" fill="#808080"/>
<rect x="36" y="740" width="5" height="1" fill="#808080"/>
<rect x="36" y="778" width="8" height="1" fill="#808080"/>
<rect x="77" y="48" width="1" height="731" fill="#808080"/>
<rect x="73" y="48" width="8" height="1" fill="#808080"/>
<rect x="73" y="139" width="5" height="1" fill="#808080"/>
<rect x="73" y="230" width="5" height="1" fill="#808080"/>
<rect x="73" y="322" width="5" height="1" fill="#808080"/>
<rect x="73" y="413" width="5" height="1" fill="#808080"/>
<rect x="73" y="504" width="5" height="1" fill="#808080"/>
<rect x="73" y="596" width="5" height="1" fill="#808080"/>
<rect x="73" y="687" width="5" height="1" fill="#808080"/>
<rect x="73" y="778" width="8" height="1" fill="#808080"/>
<rect x="114" y="48" width="1" height="731" fill="#808080"/>
<rect x="110" y="48" width="8" height="1" fill="#808080"/>
<rect x="110" y="121" width="5" height="1" fill="#808080"/>
<rect x="110" y="194" width="5" height="1" fill="#808080"/>
<rect x="110" y="267" width="5" height="1" fill="#808080"/>
<rect x="110" y="340" width="5" height="1" fill="#808080"/>
<rect x="110" y="413" width="5" height="1" fill="#808080"/>
<rect x="110" y="486" width="5" height="1" fill="#808080"/>
<rect x="110" y="559" width="5" height="1" fill="#808080"/>
<rect x="110" y="632" width="5" height="1" fill="#808080"/>
<rect x="110" y="705" width="5" height="1" fill="#808080"/>
<rect x="110" y="778" width="8" height="1" fill="#808080"/>
<rect x="147" y="48" width="4" height="1" fill="#808080"/>
<rect x="147" y="121" width="4" height="1" fill="#808080"/>
<rect x="147" y="194" width="4" height="1" fill="#808080"/>
<rect x="147" y="267" width="4" height="1" fill="#808080"/>
<rect x="147" y="340" width="4" height="1" fill="#808080"/>
<rect x="147" y="413" width="4" height="1" fill="#808080"/>
<rect x="147" y="486" width="4" height="1" fill="#808080"/>
<rect x="147" y="559" width="4" height="1" fill="#808080"/>
<rect x="147" y="632" width="4" height="1" fill="#808080"/>
<rect x="147" y="705" width="4" height="1" fill="#808080"/>
<rect x="147" y="778" width="4" height="1" fill="#808080"/>
</g>
<text transform="translate(34.5,53) scale(0.915,1)" fill="#ff0000" text-anchor="end" font-size="12" font-weight="normal" >32.0</text>
<text transform="translate(34.5,91) scale(0.915,1)" fill="#ff0000" text-anchor="end" font-size="12" font-weight="normal" >30.0</text>
<text transform="translate(34.5,130) scale(0.915,1)" fill="#ff0000" text-anchor="end" font-size="12" font-weight="normal" >28.0</text>
<text transform="translate(34.5,168) scale(0.915,1)" fill="#ff0000" text-anchor="end" font-size="12" font-weight="normal" >26.0</text>
<text transform="translate(34.5,207) scale(0.915,1)" fill="#ff0000" text-anchor="end" font-size="12" font-weight="normal" >24.0</text>
<text transform="translate(34.5,245) scale(0.915,1)" fill="#ff0000" text-anchor="end" font-size="12" font-weight="normal" >22.0</text>
<text transform="translate(34.5,284) scale(0.915,1)" fill="#ff0000" text-anchor="end" font-size="12" font-weight="normal" >20.0</text>
<text transform="translate(34.5,322) scale(0.915,1)" fill="#ff0000" text-anchor="end" font-size="12" font-weight="normal" >18.0</text>
<text transform="translate(34.5,360) scale(0.915,1)" fill="#ff0000" text-anchor="end" font-size="12" font-weight="normal" >16.0</text>
<text transform="translate(34.5,399) scale(0.915,1)" fill="#ff0000" text-anchor="end" font-size="12" font-weight="normal" >14.0</text>
<text transform="translate(34.5,437) scale(0.915,1)" fill="#ff0000" text-anchor="end" font-size="12" font-weight="normal" >12.0</text>
<text transform="translate(34.5,476) scale(0.915,1)" fill="#ff0000" text-anchor="end" font-size="12" font-weight="normal" >10.0</text>
<text transform="translate(34.5,514) scale(0.915,1)" fill="#ff0000" text-anchor="end" font-size="12" font-weight="normal" >8.0</text>
<text transform="translate(34.5,552) scale(0.915,1)" fill="#ff0000" text-anchor="end" font-size="12" font-weight="normal" >6.0</text>
<text transform="translate(34.5,591) scale(0.915,1)" fill="#ff0000" text-anchor="end" font-size="12" font-weight="normal" >4.0</text>
<text transform="translate(34.5,629) scale(0.915,1)" fill="#ff0000" text-anchor="end" font-size="12" font-weight="normal" >2.0</text>
<text transform="translate(34.5,668) scale(0.915,1)" fill="#ff0000" text-anchor="end" font-size="12" font-weight="normal" >0.0</text>
<text transform="translate(34.5,706) scale(0.915,1)" fill="#ff0000" text-anchor="end" font-size="12" font-weight="normal" >-2.0</text>
<text transform="translate(34.5,745) scale(0.915,1)" fill="#ff0000" text-anchor="end" font-size="12" font-weight="normal" >-4.0</text>
<text transform="translate(34.5,783) scale(0.915,1)" fill="#ff0000" text-anchor="end" font-size="12" font-weight="normal" >-6.0</text>
<text transform="translate(71.5,53) scale(0.915,1)" fill="#00ff00" text-anchor="end" font-size="12" font-weight="normal" >1030</text>
<text transform="translate(71.5,144) scale(0.915,1)" fill="#00ff00" text-anchor="end" font-size="12" font-weight="normal" >1025</text>
<text transform="translate(71.5,235) scale(0.915,1)" fill="#00ff00" text-anchor="end" font-size="12" font-weight="normal" >1020</text>
<text transform="translate(71.5,327) scale(0.915,1)" fill="#00ff00" text-anchor="end" font-size="12" font-weight="normal" >1015</text>
<text transform="translate(71.5,418) scale(0.915,1)" fill="#00ff00" text-anchor="end" font-size="12" font-weight="normal" >1010</text>
<text transform="translate(71.5,509) scale(0.915,1)" fill="#00ff00" text-anchor="end" font-size="12" font-weight="normal" >1005</text>
<text transform="translate(71.5,601) scale(0.915,1)" fill="#00ff00" text-anchor="end" font-size="12" font-weight="normal" >1000</text>
<text transform="translate(71.5,692) scale(0.915,1)" fill="#00ff00" text-anchor="end" font-size="12" font-weight="normal" >995</text>
<text transform="translate(71.5,783) scale(0.915,1)" fill="#00ff00" text-anchor="end" font-size="12" font-weight="normal" >990</text>
<text transform="translate(108.5,53) scale(0.915,1)" fill="#000" text-anchor="end" font-size="12" font-weight="normal" >50.0</text>
<text transform="translate(108.5,126) scale(0.915,1)" fill="#000" text-anchor="end" font-size="12" font-weight="normal" >45.0</text>
<text transform="translate(108.5,199) scale(0.915,1)" fill="#000" text-anchor="end" font-size="12" font-weight="normal" >40.0</text>
<text transform="translate(108.5,272) scale(0.915,1)" fill="#000" text-anchor="end" font-size="12" font-weight="normal" >35.0</text>
<text transform="translate(108.5,345) scale(0.915,1)" fill="#000" text-anchor="end" font-size="12" font-weight="normal" >30.0</text>
<text transform="translate(108.5,418) scale(0.915,1)" fill="#000" text-anchor="end" font-size="12" font-weight="normal" >25.0</text>
<text transform="translate(108.5,491) scale(0.915,1)" fill="#000" text-anchor="end" font-size="12" font-weight="normal" >20.0</text>
<text transform="translate(108.5,564) scale(0.915,1)" fill="#000" text-anchor="end" font-size="12" font-weight="normal" >15.0</text>
<text transform="translate(108.5,637) scale(0.915,1)" fill="#000" text-anchor="end" font-size="12" font-weight="normal" >10.0</text>
<text transform="translate(108.5,710) scale(0.915,1)" fill="#000" text-anchor="end" font-size="12" font-weight="normal" >5.0</text>
<text transform="translate(108.5,783) scale(0.915,1)" fill="#000" text-anchor="end" font-size="12" font-weight="normal" >0.0</text>
<text transform="translate(145.5,53) scale(0.915,1)" fill="#ffff00" text-anchor="end" font-size="12" font-weight="normal" >100</text>
<text transform="translate(145.5,126) scale(0.915,1)" fill="#ffff00" text-anchor="end" font-size="12" font-weight="normal" >90</text>
<text transform="translate(145.5,199) scale(0.915,1)" fill="#ffff00" text-anchor="end" font-size="12" font-weight="normal" >80</text>
<text transform="translate(145.5,272) scale(0.915,1)" fill="#ffff00" text-anchor="end" font-size="12" font-weight="normal" >70</text>
<text transform="translate(145.5,345) scale(0.915,1)" fill="#ffff00" text-anchor="end" font-size="12" font-weight="normal" >60</text>
<text transform="translate(145.5,418) scale(0.915,1)" fill="#ffff00" text-anchor="end" font-size="12" font-weight="normal" >50</text>
<text transform="translate(145.5,491) scale(0.915,1)" fill="#ffff00" text-anchor="end" font-size="12" font-weight="normal" >40</text>
<text transform="translate(145.5,564) scale(0.915,1)" fill="#ffff00" text-anchor="end" font-size="12" font-weight="normal" >30</text>
<text transform="translate(145.5,637) scale(0.915,1)" fill="#ffff00" text-anchor="end" font-size="12" font-weight="normal" >20</text>
<text transform="translate(145.5,710) scale(0.915,1)" fill="#ffff00" text-anchor="end" font-size="12" font-weight="normal" >10</text>
<text transform="translate(145.5,783) scale(0.915,1)" fill="#ffff00" text-anchor="end" font-size="12" font-weight="normal" >0</text>
<text transform="translate(19,37) scale(0.915,1)" fill="#ff0000" text-anchor="start" font-size="12" font-weight="normal" >&#176;C</text>
<text transform="translate(48.5,37) scale(0.915,1)" fill="#00ff00" text-anchor="start" font-size="12" font-weight="normal" >hPa</text>
<text transform="translate(79,37) scale(0.915,1)" fill="#000" text-anchor="start" font-size="12" font-weight="normal" >km/h</text>
<text transform="translate(125,37) scale(0.915,1)" fill="#ffff00" text-anchor="start" font-size="12" font-weight="normal" >min</text>
<g class="c">
<rect x="1132" y="778" width="4" height="1" fill="#808080"/>
<rect x="1132" y="742" width="4" height="1" fill="#808080"/>
<rect x="1132" y="705" width="4" height="1" fill="#808080"/>
<rect x="1132" y="668" width="4" height="1" fill="#808080"/>
<rect x="1132" y="632" width="4" height="1" fill="#808080"/>
<rect x="1132" y="596" width="4" height="1" fill="#808080"/>
<rect x="1132" y="559" width="4" height="1" fill="#808080"/>
<rect x="1132" y="522" width="4" height="1" fill="#808080"/>
<rect x="1132" y="486" width="4" height="1" fill="#808080"/>
<rect x="1132" y="450" width="4" height="1" fill="#808080"/>
<rect x="1132" y="413" width="4" height="1" fill="#808080"/>
<rect x="1132" y="376" width="4" height="1" fill="#808080"/>
<rect x="1132" y="340" width="4" height="1" fill="#808080"/>
<rect x="1132" y="304" width="4" height="1" fill="#808080"/>
<rect x="1132" y="267" width="4" height="1" fill="#808080"/>
<rect x="1132" y="230" width="4" height="1" fill="#808080"/>
<rect x="1132" y="194" width="4" height="1" fill="#808080"/>
<rect x="1132" y="158" width="4" height="1" fill="#808080"/>
<rect x="1132" y="121" width="4" height="1" fill="#808080"/>
<rect x="1132" y="84" width="4" height="1" fill="#808080"/>
<rect x="1132" y="48" width="4" height="1" fill="#808080"/>
<rect x="1168" y="48" width="1" height="731" fill="#808080"/>
<rect x="1164" y="778" width="9" height="1" fill="#808080"/>
<rect x="1168" y="754" width="5" height="1" fill="#808080"/>
<rect x="1168" y="742" width="5" height="1" fill="#808080"/>
<rect x="1168" y="717" width="5" height="1" fill="#808080"/>
<rect x="1168" y="693" width="5" height="1" fill="#808080"/>
<rect x="1168" y="668" width="5" height="1" fill="#808080"/>
<rect x="1168" y="644" width="5" height="1" fill="#808080"/>
<rect x="1168" y="620" width="5" height="1" fill="#808080"/>
<rect x="1168" y="596" width="5" height="1" fill="#808080"/>
<rect x="1168" y="571" width="5" height="1" fill="#808080"/>
<rect x="1168" y="547" width="5" height="1" fill="#808080"/>
<rect x="1168" y="522" width="5" height="1" fill="#808080"/>
<rect x="1168" y="498" width="5" height="1" fill="#808080"/>
<rect x="1168" y="474" width="5" height="1" fill="#808080"/>
<rect x="1168" y="449" width="5" height="1" fill="#808080"/>
<rect x="1168" y="425" width="5" height="1" fill="#808080"/>
<rect x="1168" y="401" width="5" height="1" fill="#808080"/>
<rect x="1168" y="376" width="5" height="1" fill="#808080"/>
<rect x="1168" y="352" width="5" height="1" fill="#808080"/>
<rect x="1168" y="328" width="5" height="1" fill="#808080"/>
<rect x="1168" y="304" width="5" height="1" fill="#808080"/>
<rect x="1168" y="279" width="5" height="1" fill="#808080"/>
<rect x="1168" y="255" width="5" height="1" fill="#808080"/>
<rect x="1168" y="230" width="5" height="1" fill="#808080"/>
<rect x="1168" y="206" width="5" height="1" fill="#808080"/>
<rect x="1168" y="182" width="5" height="1" fill="#808080"/>
<rect x="1168" y="158" width="5" height="1" fill="#808080"/>
<rect x="1168" y="133" width="5" height="1" fill="#808080"/>
<rect x="1168" y="109" width="5" height="1" fill="#808080"/>
<rect x="1168" y="84" width="5" height="1" fill="#808080"/>
<rect x="1164" y="60" width="9" height="1" fill="#808080"/>
<rect x="1205" y="48" width="1" height="731" fill="#808080"/>
<rect x="1201" y="778" width="9" height="1" fill="#808080"/>
<rect x="1205" y="717" width="5" height="1" fill="#808080"/>
<rect x="1205" y="656" width="5" height="1" fill="#808080"/>
<rect x="1205" y="596" width="5" height="1" fill="#808080"/>
<rect x="1205" y="535" width="5" height="1" fill="#808080"/>
<rect x="1205" y="474" width="5" height="1" fill="#808080"/>
<rect x="1205" y="413" width="5" height="1" fill="#808080"/>
<rect x="1205" y="352" width="5" height="1" fill="#808080"/>
<rect x="1205" y="291" width="5" height="1" fill="#808080"/>
<rect x="1205" y="230" width="5" height="1" fill="#808080"/>
<rect x="1205" y="170" width="5" height="1" fill="#808080"/>
<rect x="1205" y="109" width="5" height="1" fill="#808080"/>
<rect x="1201" y="48" width="9" height="1" fill="#808080"/>
<rect x="1242" y="48" width="1" height="731" fill="#808080"/>
<rect x="1238" y="778" width="9" height="1" fill="#808080"/>
<rect x="1242" y="656" width="5" height="1" fill="#808080"/>
<rect x="1242" y="535" width="5" height="1" fill="#808080"/>
<rect x="1242" y="413" width="5" height="1" fill="#808080"/>
<rect x="1242" y="291" width="5" height="1" fill="#808080"/>
<rect x="1242" y="170" width="5" height="1" fill="#808080"/>
<rect x="1238" y="48" width="9" height="1" fill="#808080"/>
</g>
<text transform="translate(1137.5,783) scale(0.915,1)" fill="#0000ff" text-anchor="start" font-size="12" font-weight="normal" >0</text>
<text transform="translate(1137.5,747) scale(0.915,1)" fill="#0000ff" text-anchor="start" font-size="12" font-weight="normal" >5</text>
<text transform="translate(1137.5,710) scale(0.915,1)" fill="#0000ff" text-anchor="start" font-size="12" font-weight="normal" >10</text>
<text transform="translate(1137.5,673) scale(0.915,1)" fill="#0000ff" text-anchor="start" font-size="12" font-weight="normal" >15</text>
<text transform="translate(1137.5,637) scale(0.915,1)" fill="#0000ff" text-anchor="start" font-size="12" font-weight="normal" >20</text>
<text transform="translate(1137.5,601) scale(0.915,1)" fill="#0000ff" text-anchor="start" font-size="12" font-weight="normal" >25</text>
<text transform="translate(1137.5,564) scale(0.915,1)" fill="#0000ff" text-anchor="start" font-size="12" font-weight="normal" >30</text>
<text transform="translate(1137.5,527) scale(0.915,1)" fill="#0000ff" text-anchor="start" font-size="12" font-weight="normal" >35</text>
<text transform="translate(1137.5,491) scale(0.915,1)" fill="#0000ff" text-anchor="start" font-size="12" font-weight="normal" >40</text>
<text transform="translate(1137.5,455) scale(0.915,1)" fill="#0000ff" text-anchor="start" font-size="12" font-weight="normal" >45</text>
<text transform="translate(1137.5,418) scale(0.915,1)" fill="#0000ff" text-anchor="start" font-size="12" font-weight="normal" >50</text>
<text transform="translate(1137.5,381) scale(0.915,1)" fill="#0000ff" text-anchor="start" font-size="12" font-weight="normal" >55</text>
<text transform="translate(1137.5,345) scale(0.915,1)" fill="#0000ff" text-anchor="start" font-size="12" font-weight="normal" >60</text>
<text transform="translate(1137.5,309) scale(0.915,1)" fill="#0000ff" text-anchor="start" font-size="12" font-weight="normal" >65</text>
<text transform="translate(1137.5,272) scale(0.915,1)" fill="#0000ff" text-anchor="start" font-size="12" font-weight="normal" >70</text>
<text transform="translate(1137.5,235) scale(0.915,1)" fill="#0000ff" text-anchor="start" font-size="12" font-weight="normal" >75</text>
<text transform="translate(1137.5,199) scale(0.915,1)" fill="#0000ff" text-anchor="start" font-size="12" font-weight="normal" >80</text>
<text transform="translate(1137.5,163) scale(0.915,1)" fill="#0000ff" text-anchor="start" font-size="12" font-weight="normal" >85</text>
<text transform="translate(1137.5,126) scale(0.915,1)" fill="#0000ff" text-anchor="start" font-size="12" font-weight="normal" >90</text>
<text transform="translate(1137.5,89) scale(0.915,1)" fill="#0000ff" text-anchor="start" font-size="12" font-weight="normal" >95</text>
<text transform="translate(1137.5,53) scale(0.915,1)" fill="#0000ff" text-anchor="start" font-size="12" font-weight="normal" >100</text>
<text transform="translate(1174.5,783) scale(0.915,1)" fill="#00ffff" text-anchor="start" font-size="12" font-weight="normal" >0.00</text>
<text transform="translate(1174.5,759) scale(0.915,1)" fill="#00ffff" text-anchor="start" font-size="12" font-weight="normal" >0.20</text>
<text transform="translate(1174.5,747) scale(0.915,1)" fill="#00ffff" text-anchor="start" font-size="12" font-weight="normal" >0.30</text>
<text transform="translate(1174.5,722) scale(0.915,1)" fill="#00ffff" text-anchor="start" font-size="12" font-weight="normal" >0.50</text>
<text transform="translate(1174.5,698) scale(0.915,1)" fill="#00ffff" text-anchor="start" font-size="12" font-weight="normal" >0.70</text>
<text transform="translate(1174.5,673) scale(0.915,1)" fill="#00ffff" text-anchor="start" font-size="12" font-weight="normal" >0.90</text>
<text transform="translate(1174.5,649) scale(0.915,1)" fill="#00ffff" text-anchor="start" font-size="12" font-weight="normal" >1.10</text>
<text transform="translate(1174.5,625) scale(0.915,1)" fill="#00ffff" text-anchor="start" font-size="12" font-weight="normal" >1.30</text>
<text transform="translate(1174.5,601) scale(0.915,1)" fill="#00ffff" text-anchor="start" font-size="12" font-weight="normal" >1.50</text>
<text transform="translate(1174.5,576) scale(0.915,1)" fill="#00ffff" text-anchor="start" font-size="12" font-weight="normal" >1.70</text>
<text transform="translate(1174.5,552) scale(0.915,1)" fill="#00ffff" text-anchor="start" font-size="12" font-weight="normal" >1.90</text>
<text transform="translate(1174.5,527) scale(0.915,1)" fill="#00ffff" text-anchor="start" font-size="12" font-weight="normal" >2.10</text>
<text transform="translate(1174.5,503) scale(0.915,1)" fill="#00ffff" text-anchor="start" font-size="12" font-weight="normal" >2.30</text>
<text transform="translate(1174.5,479) scale(0.915,1)" fill="#00ffff" text-anchor="start" font-size="12" font-weight="normal" >2.50</text>
<text transform="translate(1174.5,454) scale(0.915,1)" fill="#00ffff" text-anchor="start" font-size="12" font-weight="normal" >2.70</text>
<text transform="translate(1174.5,430) scale(0.915,1)" fill="#00ffff" text-anchor="start" font-size="12" font-weight="normal" >2.90</text>
<text transform="translate(1174.5,406) scale(0.915,1)" fill="#00ffff" text-anchor="start" font-size="12" font-weight="normal" >3.10</text>
<text transform="translate(1174.5,381) scale(0.915,1)" fill="#00ffff" text-anchor="start" font-size="12" font-weight="normal" >3.30</text>
<text transform="translate(1174.5,357) scale(0.915,1)" fill="#00ffff" text-anchor="start" font-size="12" font-weight="normal" >3.50</text>
<text transform="translate(1174.5,333) scale(0.915,1)" fill="#00ffff" text-anchor="start" font-size="12" font-weight="normal" >3.70</text>
<text transform="translate(1174.5,309) scale(0.915,1)" fill="#00ffff" text-anchor="start" font-size="12" font-weight="normal" >3.90</text>
<text transform="translate(1174.5,284) scale(0.915,1)" fill="#00ffff" text-anchor="start" font-size="12" font-weight="normal" >4.10</text>
<text transform="translate(1174.5,260) scale(0.915,1)" fill="#00ffff" text-anchor="start" font-size="12" font-weight="normal" >4.30</text>
<text transform="translate(1174.5,235) scale(0.915,1)" fill="#00ffff" text-anchor="start" font-size="12" font-weight="normal" >4.50</text>
<text transform="translate(1174.5,211) scale(0.915,1)" fill="#00ffff" text-anchor="start" font-size="12" font-weight="normal" >4.70</text>
<text transform="translate(1174.5,187) scale(0.915,1)" fill="#00ffff" text-anchor="start" font-size="12" font-weight="normal" >4.90</text>
<text transform="translate(1174.5,163) scale(0.915,1)" fill="#00ffff" text-anchor="start" font-size="12" font-weight="normal" >5.10</text>
<text transform="translate(1174.5,138) scale(0.915,1)" fill="#00ffff" text-anchor="start" font-size="12" font-weight="normal" >5.30</text>
<text transform="translate(1174.5,114) scale(0.915,1)" fill="#00ffff" text-anchor="start" font-size="12" font-weight="normal" >5.50</text>
<text transform="translate(1174.5,89) scale(0.915,1)" fill="#00ffff" text-anchor="start" font-size="12" font-weight="normal" >5.70</text>
<text transform="translate(1174.5,65) scale(0.915,1)" fill="#00ffff" text-anchor="start" font-size="12" font-weight="normal" >5.90</text>
<text transform="translate(1212,783) scale(0.915,1)" fill="#808080" text-anchor="start" font-size="12" font-weight="normal" >0</text>
<text transform="translate(1239.5,783) scale(0.915,1)" fill="#808080" text-anchor="end" font-size="12" font-weight="normal" >N</text>
<text transform="translate(1212,722) scale(0.915,1)" fill="#808080" text-anchor="start" font-size="12" font-weight="normal" >30</text>
<text transform="translate(1212,661) scale(0.915,1)" fill="#808080" text-anchor="start" font-size="12" font-weight="normal" >60</text>
<text transform="translate(1212,601) scale(0.915,1)" fill="#808080" text-anchor="start" font-size="12" font-weight="normal" >90</text>
<text transform="translate(1239.5,601) scale(0.915,1)" fill="#808080" text-anchor="end" font-size="12" font-weight="normal" >O</text>
<text transform="translate(1212,540) scale(0.915,1)" fill="#808080" text-anchor="start" font-size="12" font-weight="normal" >120</text>
<text transform="translate(1212,479) scale(0.915,1)" fill="#808080" text-anchor="start" font-size="12" font-weight="normal" >150</text>
<text transform="translate(1212,418) scale(0.915,1)" fill="#808080" text-anchor="start" font-size="12" font-weight="normal" >180</text>
<text transform="translate(1239.5,418) scale(0.915,1)" fill="#808080" text-anchor="end" font-size="12" font-weight="normal" >S</text>
<text transform="translate(1212,357) scale(0.915,1)" fill="#808080" text-anchor="start" font-size="12" font-weight="normal" >210</text>
<text transform="translate(1212,296) scale(0.915,1)" fill="#808080" text-anchor="start" font-size="12" font-weight="normal" >240</text>
<text transform="translate(1212,235) scale(0.915,1)" fill="#808080" text-anchor="start" font-size="12" font-weight="normal" >270</text>
<text transform="translate(1239.5,235) scale(0.915,1)" fill="#808080" text-anchor="end" font-size="12" font-weight="normal" >W</text>
<text transform="translate(1212,175) scale(0.915,1)" fill="#808080" text-anchor="start" font-size="12" font-weight="normal" >300</text>
<text transform="translate(1212,114) scale(0.915,1)" fill="#808080" text-anchor="start" font-size="12" font-weight="normal" >330</text>
<text transform="translate(1212,53) scale(0.915,1)" fill="#808080" text-anchor="start" font-size="12" font-weight="normal" >360</text>
<text transform="translate(1239.5,53) scale(0.915,1)" fill="#808080" text-anchor="end" font-size="12" font-weight="normal" >N</text>
<text transform="translate(1248.2,783) scale(0.915,1)" fill="#4da6ff" text-anchor="start" font-size="12" font-weight="normal" >0</text>
<text transform="translate(1248.2,661) scale(0.915,1)" fill="#4da6ff" text-anchor="start" font-size="12" font-weight="normal" >20</text>
<text transform="translate(1248.2,540) scale(0.915,1)" fill="#4da6ff" text-anchor="start" font-size="12" font-weight="normal" >40</text>
<text transform="translate(1248.2,418) scale(0.915,1)" fill="#4da6ff" text-anchor="start" font-size="12" font-weight="normal" >60</text>
<text transform="translate(1248.2,296) scale(0.915,1)" fill="#4da6ff" text-anchor="start" font-size="12" font-weight="normal" >80</text>
<text transform="translate(1248.2,175) scale(0.915,1)" fill="#4da6ff" text-anchor="start" font-size="12" font-weight="normal" >100</text>
<text transform="translate(1248.2,53) scale(0.915,1)" fill="#4da6ff" text-anchor="start" font-size="12" font-weight="normal" >120</text>
<text transform="translate(1131.5,37) scale(0.915,1)" fill="#0000ff" text-anchor="start" font-size="12" font-weight="normal" >%</text>
<text transform="translate(1168,37) scale(0.915,1)" fill="#00ffff" text-anchor="start" font-size="12" font-weight="normal" >l/m&#178;</text>
<text transform="translate(1205.5,36) scale(0.915,1)" fill="#808080" text-anchor="start" font-size="12" font-weight="normal" >&#176;</text>
<text transform="translate(1242.5,37) scale(0.915,1)" fill="#4da6ff" text-anchor="start" font-size="12" font-weight="normal" >klux</text>
<text transform="translate(11,808) scale(0.915,1)" fill="#000" text-anchor="start" font-size="12" font-weight="normal" >12:42</text>
<path d="M40.5,807.5 a4.5,5.5 0 0 1 9,0 z" fill="#ffff00"/>
<text transform="translate(398.5,808) scale(0.915,1)" fill="#000" text-anchor="start" font-size="12" font-weight="normal" >06:52</text>
<circle cx="432" cy="804" r="5.5" fill="#ffff00" opacity="0.25"/>
<circle cx="432" cy="804" r="2.8" fill="#ffff00"/>
<rect class="c" x="431" y="774" width="2" height="13" fill="#ffff00"/>
<text transform="translate(917.5,808) scale(0.915,1)" fill="#000" text-anchor="start" font-size="12" font-weight="normal" >19:35</text>
<rect class="c" x="948.5" y="801.5" width="5" height="5" fill="#fff" stroke="#ffff00"/>
<rect class="c" x="950" y="774" width="2" height="13" fill="#ffff00"/>
<rect class="c" x="824" y="778" width="2" height="9" fill="#000"/>
<circle cx="825.5" cy="803.5" r="4.6" fill="#000"/>
<path d="M823.6,800.5 a4,4 0 0 0 0,6" fill="none" stroke="#fff" stroke-width="0.7"/>
<rect class="c" x="1" y="809" width="1279" height="72" fill="#e2f9ce"/>
<g class="c">
<rect x="88" y="809" width="1" height="72" fill="#707070"/>
<rect x="205" y="809" width="1" height="72" fill="#707070"/>
<rect x="323" y="809" width="1" height="72" fill="#707070"/>
<rect x="441" y="809" width="1" height="72" fill="#707070"/>
<rect x="559" y="809" width="1" height="72" fill="#707070"/>
<rect x="677" y="809" width="1" height="72" fill="#707070"/>
<rect x="795" y="809" width="1" height="72" fill="#707070"/>
<rect x="913" y="809" width="1" height="72" fill="#707070"/>
<rect x="1279" y="808" width="1" height="73" fill="#707070"/>
</g>
<text transform="translate(8,827) scale(0.97,1)" fill="#000" text-anchor="start" font-size="12" font-weight="bold" >Sensor</text>
<text transform="translate(8,843) scale(0.97,1)" fill="#000" text-anchor="start" font-size="12" font-weight="bold" >MinWert</text>
<text transform="translate(8,859) scale(0.97,1)" fill="#000" text-anchor="start" font-size="12" font-weight="bold" >MaxWert</text>
<text transform="translate(8,875) scale(0.97,1)" fill="#000" text-anchor="start" font-size="12" font-weight="bold" >Durchschnitt</text>
<text transform="translate(94,827) scale(0.97,1)" fill="#000" text-anchor="start" font-size="12" font-weight="bold" >Au&#223;en</text>
<text transform="translate(198,827) scale(0.97,1)" fill="#000" text-anchor="end" font-size="12" font-weight="bold" >&#176;C</text>
<text transform="translate(100,843) scale(0.915,1)" fill="#000" text-anchor="start" font-size="12" font-weight="normal" >23:45</text>
<text transform="translate(198,843) scale(0.915,1)" fill="#000" text-anchor="end" font-size="12" font-weight="normal" >13.3</text>
<text transform="translate(100,859) scale(0.915,1)" fill="#000" text-anchor="start" font-size="12" font-weight="normal" >13:45</text>
<text transform="translate(198,859) scale(0.915,1)" fill="#000" text-anchor="end" font-size="12" font-weight="normal" >20.4</text>
<text transform="translate(100,875) scale(0.915,1)" fill="#000" text-anchor="start" font-size="12" font-weight="normal" >(+ 2.27 )</text>
<text transform="translate(198,875) scale(0.915,1)" fill="#000" text-anchor="end" font-size="12" font-weight="normal" >16.67</text>
<text transform="translate(212,827) scale(0.97,1)" fill="#000" text-anchor="start" font-size="12" font-weight="bold" >Feuchte</text>
<text transform="translate(316,827) scale(0.97,1)" fill="#000" text-anchor="end" font-size="12" font-weight="bold" >%</text>
<text transform="translate(218,843) scale(0.915,1)" fill="#000" text-anchor="start" font-size="12" font-weight="normal" >16:30</text>
<text transform="translate(316,843) scale(0.915,1)" fill="#000" text-anchor="end" font-size="12" font-weight="normal" >38</text>
<text transform="translate(218,859) scale(0.915,1)" fill="#000" text-anchor="start" font-size="12" font-weight="normal" >08:15</text>
<text transform="translate(316,859) scale(0.915,1)" fill="#000" text-anchor="end" font-size="12" font-weight="normal" >87</text>
<text transform="translate(316,875) scale(0.915,1)" fill="#000" text-anchor="end" font-size="12" font-weight="normal" >64</text>
<text transform="translate(330,827) scale(0.97,1)" fill="#000" text-anchor="start" font-size="12" font-weight="bold" >Luftdruck</text>
<text transform="translate(434,827) scale(0.97,1)" fill="#000" text-anchor="end" font-size="12" font-weight="bold" >hPa</text>
<text transform="translate(336,843) scale(0.915,1)" fill="#000" text-anchor="start" font-size="12" font-weight="normal" >16:30</text>
<text transform="translate(434,843) scale(0.915,1)" fill="#000" text-anchor="end" font-size="12" font-weight="normal" >1005.0</text>
<text transform="translate(336,859) scale(0.915,1)" fill="#000" text-anchor="start" font-size="12" font-weight="normal" >23:45</text>
<text transform="translate(434,859) scale(0.915,1)" fill="#000" text-anchor="end" font-size="12" font-weight="normal" >1007.7</text>
<text transform="translate(330,875) scale(0.915,1)" fill="#000" text-anchor="start" font-size="12" font-weight="normal" >^1.1hPa/h</text>
<text transform="translate(434,875) scale(0.915,1)" fill="#000" text-anchor="end" font-size="12" font-weight="normal" >1006.3</text>
<text transform="translate(448,827) scale(0.97,1)" fill="#000" text-anchor="start" font-size="12" font-weight="bold" >Wind</text>
<text transform="translate(552,827) scale(0.97,1)" fill="#000" text-anchor="end" font-size="12" font-weight="bold" >km/h</text>
<text transform="translate(448,843) scale(0.915,1)" fill="#000" text-anchor="start" font-size="12" font-weight="normal" >&#216; 10 min.</text>
<text transform="translate(552,843) scale(0.915,1)" fill="#000" text-anchor="end" font-size="12" font-weight="normal" >0.4</text>
<text transform="translate(454,859) scale(0.915,1)" fill="#000" text-anchor="start" font-size="12" font-weight="normal" >16:00</text>
<text transform="translate(552,859) scale(0.915,1)" fill="#000" text-anchor="end" font-size="12" font-weight="normal" >SW 32.4</text>
<text transform="translate(454,875) scale(0.915,1)" fill="#000" text-anchor="start" font-size="12" font-weight="normal" >12,1 km</text>
<text transform="translate(552,875) scale(0.915,1)" fill="#000" text-anchor="end" font-size="12" font-weight="normal" >12.1</text>
<text transform="translate(566,827) scale(0.97,1)" fill="#000" text-anchor="start" font-size="12" font-weight="bold" >Richtung</text>
<text transform="translate(572,843) scale(0.915,1)" fill="#000" text-anchor="start" font-size="12" font-weight="normal" >04:15</text>
<text transform="translate(670,843) scale(0.915,1)" fill="#000" text-anchor="end" font-size="12" font-weight="normal" >O-NO</text>
<text transform="translate(572,859) scale(0.915,1)" fill="#000" text-anchor="start" font-size="12" font-weight="normal" >05:30</text>
<text transform="translate(670,859) scale(0.915,1)" fill="#000" text-anchor="end" font-size="12" font-weight="normal" >N</text>
<text transform="translate(670,875) scale(0.915,1)" fill="#000" text-anchor="end" font-size="12" font-weight="normal" >SW</text>
<text transform="translate(684,827) scale(0.915,1)" fill="#000" text-anchor="start" font-size="12" font-weight="normal" >Regen/1h</text>
<text transform="translate(788,827) scale(0.915,1)" fill="#000" text-anchor="end" font-size="12" font-weight="normal" >0.00l/m&#178;</text>
<text transform="translate(684,843) scale(0.915,1)" fill="#000" text-anchor="start" font-size="12" font-weight="normal" >Regen/Tag</text>
<text transform="translate(788,843) scale(0.915,1)" fill="#000" text-anchor="end" font-size="12" font-weight="normal" >0.40l/m&#178;</text>
<text transform="translate(684,859) scale(0.915,1)" fill="#000" text-anchor="start" font-size="12" font-weight="normal" >Neumond</text>
<text transform="translate(788,859) scale(0.915,1)" fill="#000" text-anchor="end" font-size="12" font-weight="normal" >14.10.04</text>
<text transform="translate(684,875) scale(0.915,1)" fill="#000" text-anchor="start" font-size="12" font-weight="normal" >Vollmond</text>
<text transform="translate(788,875) scale(0.915,1)" fill="#000" text-anchor="end" font-size="12" font-weight="normal" >28.09.04</text>
<text transform="translate(802,827) scale(0.915,1)" fill="#000" text-anchor="start" font-size="12" font-weight="normal" >Wolkenunterg</text>
<text transform="translate(906,827) scale(0.915,1)" fill="#000" text-anchor="end" font-size="12" font-weight="normal" >326m</text>
<text transform="translate(802,843) scale(0.915,1)" fill="#000" text-anchor="start" font-size="12" font-weight="normal" >Sichtweite</text>
<text transform="translate(906,843) scale(0.915,1)" fill="#000" text-anchor="end" font-size="12" font-weight="normal" >6-10km</text>
<text transform="translate(802,859) scale(0.915,1)" fill="#000" text-anchor="start" font-size="12" font-weight="normal" >Max. Sonnen</text>
<text transform="translate(906,859) scale(0.915,1)" fill="#000" text-anchor="end" font-size="12" font-weight="normal" >41,461&#176;</text>
<text transform="translate(802,875) scale(0.915,1)" fill="#000" text-anchor="start" font-size="12" font-weight="normal" >Sonnen Pos</text>
<text transform="translate(906,875) scale(0.915,1)" fill="#000" text-anchor="end" font-size="12" font-weight="normal" >-32,071&#176;</text>
<text transform="translate(920,827) scale(0.97,1)" fill="#000" text-anchor="start" font-size="12" font-weight="bold" >PMV+2:16</text>
<text transform="translate(920,843) scale(0.915,1)" fill="#000" text-anchor="start" font-size="12" font-weight="normal" >WC 13.3 &#176;C</text>
<text transform="translate(920,859) scale(0.915,1)" fill="#000" text-anchor="start" font-size="12" font-weight="normal" >TP 11.2 &#176;C</text>
<text transform="translate(920,875) scale(0.915,1)" fill="#000" text-anchor="start" font-size="12" font-weight="normal" >1.3hPa/3h</text>
</svg></body></html>
